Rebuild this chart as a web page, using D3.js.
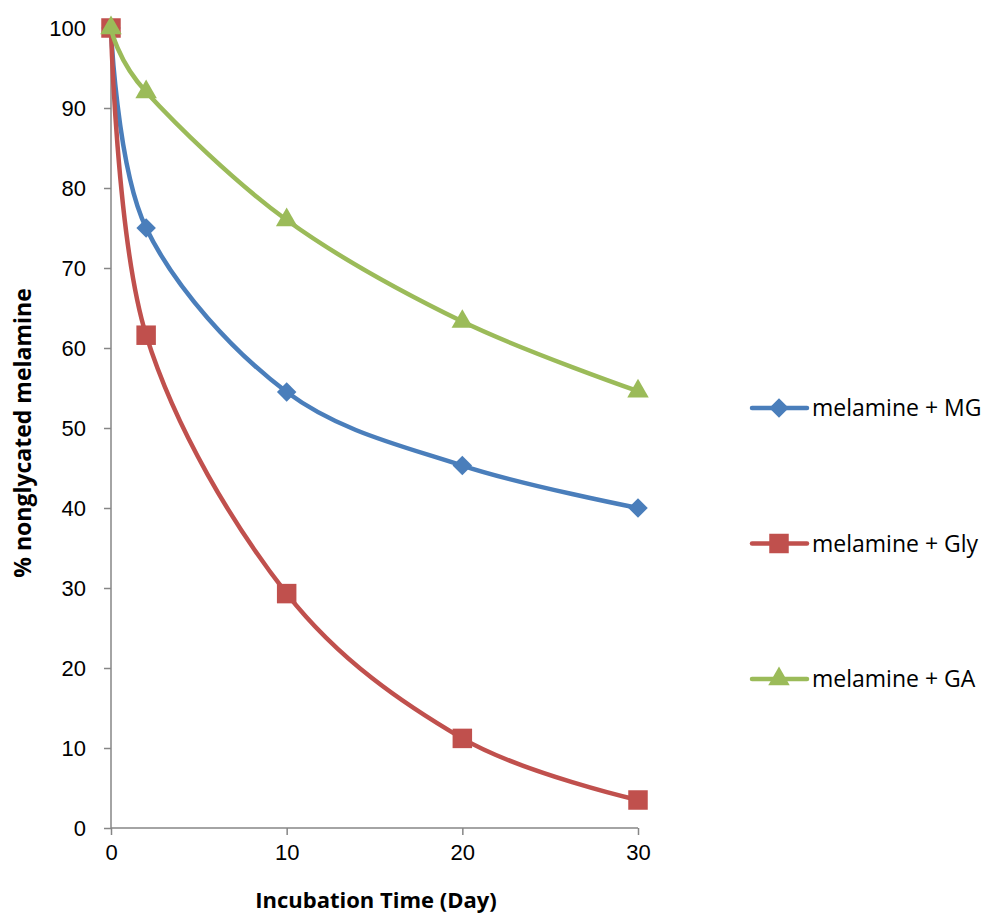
<!DOCTYPE html>
<html>
<head>
<meta charset="utf-8">
<script src="https://cdn.jsdelivr.net/npm/d3@7"></script>
<style>
  body { margin: 0; background: #fff; }
  svg { font-family: "Open Sans", "Noto Sans", sans-serif; }
</style>
</head>
<body>
<svg width="984" height="916"></svg>
<script>
// incubation days and % nonglycated melamine per treatment
let days = [0, 2, 10, 20, 30];
let mgValues = [100, 75, 54.5, 45.3, 40];
let glyValues = [100, 61.6, 29.3, 11.2, 3.5];
let gaValues = [100, 92, 76, 63.3, 54.6];
let seriesNames = ["melamine + MG", "melamine + Gly", "melamine + GA"];
let xTicks = [0, 10, 20, 30];
let yTicks = [0, 10, 20, 30, 40, 50, 60, 70, 80, 90, 100];

let series = [
  { name: seriesNames[0], values: mgValues, color: "#4a7ebb", shape: "diamond" },
  { name: seriesNames[1], values: glyValues, color: "#c0504d", shape: "square" },
  { name: seriesNames[2], values: gaValues, color: "#9bbb59", shape: "triangle" }
];

let svg = d3.select("svg");

let x = d3.scaleLinear().domain([0, 30]).range([111, 638]);
let y = d3.scaleLinear().domain([0, 100]).range([828, 28]);

// axes
let yAxis = svg.append("g")
  .attr("transform", "translate(111,0)")
  .call(d3.axisLeft(y).tickValues(yTicks).tickSize(7).tickPadding(18));
let xAxis = svg.append("g")
  .attr("transform", "translate(0,828)")
  .call(d3.axisBottom(x).tickValues(xTicks).tickSize(7).tickPadding(9));

[xAxis, yAxis].forEach(a => {
  a.selectAll("path, line").attr("stroke", "#868686").attr("stroke-width", 1.5);
  a.selectAll("text").attr("fill", "#000").style("font-size", "22px");
  a.select(".domain").attr("d", a === xAxis ? "M111,0H638" : "M0,28V828");
});
yAxis.selectAll("text").attr("dy", "0.36em");

// axis titles
svg.append("text")
  .attr("x", 376).attr("y", 908)
  .attr("text-anchor", "middle")
  .style("font-size", "22px").style("font-weight", "bold")
  .text("Incubation Time (Day)");
svg.append("text")
  .attr("transform", "translate(31,433) rotate(-90)")
  .attr("text-anchor", "middle")
  .style("font-size", "23px").style("font-weight", "bold")
  .text("% nonglycated melamine");

let line = d3.line()
  .x((d, i) => x(days[i]))
  .y(d => y(d))
  .curve(d3.curveCardinal.tension(0));

// marker shapes: diamond is a square turned 45 degrees
function marker(shape) {
  if (shape === "square") return { d: d3.symbol().type(d3.symbolSquare).size(380)(), rot: 0 };
  if (shape === "diamond") return { d: d3.symbol().type(d3.symbolSquare).size(190)(), rot: 45 };
  return { d: d3.symbol().type(d3.symbolTriangle).size(200)(), rot: 0 };
}

series.forEach(s => {
  let m = marker(s.shape);
  svg.append("path")
    .attr("d", line(s.values))
    .attr("fill", "none")
    .attr("stroke", s.color)
    .attr("stroke-width", 4.5)
    .attr("stroke-linecap", "round");

  svg.append("g").selectAll("path")
    .data(s.values)
    .enter()
    .append("path")
    .attr("transform", (d, i) => "translate(" + x(days[i]) + "," + y(d) + ") rotate(" + m.rot + ")")
    .attr("d", m.d)
    .attr("fill", s.color);
});

// legend
let legend = svg.append("g")
  .selectAll("g")
  .data(series)
  .enter()
  .append("g")
  .attr("transform", (d, i) => "translate(752," + (408 + i * 135.5) + ")");

legend.append("line")
  .attr("x1", 0).attr("x2", 55)
  .attr("stroke", d => d.color)
  .attr("stroke-width", 4.5)
  .attr("stroke-linecap", "round");
legend.append("path")
  .attr("transform", d => "translate(27,0) rotate(" + marker(d.shape).rot + ")")
  .attr("d", d => marker(d.shape).d)
  .attr("fill", d => d.color);
legend.append("text")
  .attr("x", 60)
  .attr("dy", "0.36em")
  .style("font-size", "23px")
  .text(d => d.name);
</script>
</body>
</html>
